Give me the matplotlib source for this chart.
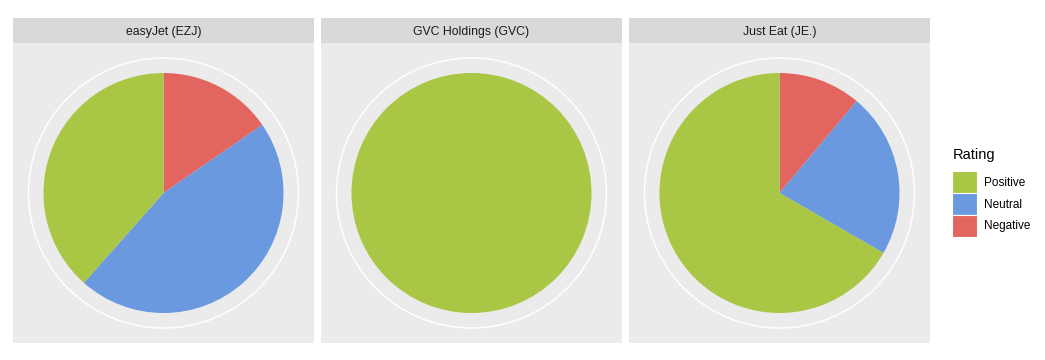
import numpy as np
import matplotlib

matplotlib.use('Agg')

import matplotlib.pyplot as plt
from matplotlib.patches import Patch, Circle

companies = ['easyJet (EZJ)', 'GVC Holdings (GVC)', 'Just Eat (JE.)']
ratings = ['Negative', 'Neutral', 'Positive']
negative = [2, 0, 1]
neutral = [6, 0, 2]
positive = [5, 4, 6]

colors = {'Positive': '#A9C645', 'Neutral': '#6A99E0', 'Negative': '#E3655F'}

W, H = 1045, 360
fig = plt.figure(figsize=(W / 100, H / 100), dpi=100)
fig.patch.set_facecolor('white')

panel_x = [13, 321, 629]
panel_w = 301
panel_top = 43
panel_bot = 343
strip_top = 18

for i, name in enumerate(companies):
    x0 = panel_x[i]
    ax = fig.add_axes([x0 / W, (H - panel_bot) / H, panel_w / W, (panel_bot - panel_top) / H])
    vals = [negative[i], neutral[i], positive[i]]
    cols = [colors[r] for r in ratings]
    ax.pie(vals, colors=cols, startangle=90, counterclock=False, radius=120,
           wedgeprops=dict(linewidth=0))
    ax.add_patch(Circle((0, 0), 135, fill=False, edgecolor='white', linewidth=1.1, zorder=0.5))
    ax.set_frame_on(True)
    ax.set_facecolor('#EBEBEB')
    ax.set_xlim(-panel_w / 2, panel_w / 2)
    ax.set_ylim(-150, 150)
    ax.set_aspect('auto')
    ax.set_xticks([])
    ax.set_yticks([])
    for s in ax.spines.values():
        s.set_visible(False)

    sax = fig.add_axes([x0 / W, (H - panel_top) / H, panel_w / W, (panel_top - strip_top) / H])
    sax.set_facecolor('#D9D9D9')
    sax.set_xticks([])
    sax.set_yticks([])
    for s in sax.spines.values():
        s.set_visible(False)
    sax.text(0.5, 0.45, name, ha='center', va='center', fontsize=8.8,
             color='#1A1A1A', family='Liberation Sans', transform=sax.transAxes)

# legend
fig.text(953 / W, 1 - 155 / H, 'Rating', ha='left', va='center',
         fontsize=10.5, family='Liberation Sans', color='black')
handles = [Patch(facecolor=colors[r], edgecolor='white', linewidth=0.8) for r in ['Positive', 'Neutral', 'Negative']]
leg = fig.legend(handles, ['Positive', 'Neutral', 'Negative'],
                 loc='center left', bbox_to_anchor=(948 / W, 1 - 204 / H),
                 frameon=False, handlelength=2.15, handleheight=2.45,
                 labelspacing=0.0, handletextpad=0.6,
                 borderaxespad=0.3, borderpad=0.0,
                 prop=dict(family='Liberation Sans', size=8.5))

fig.savefig('out.png', dpi=100)
